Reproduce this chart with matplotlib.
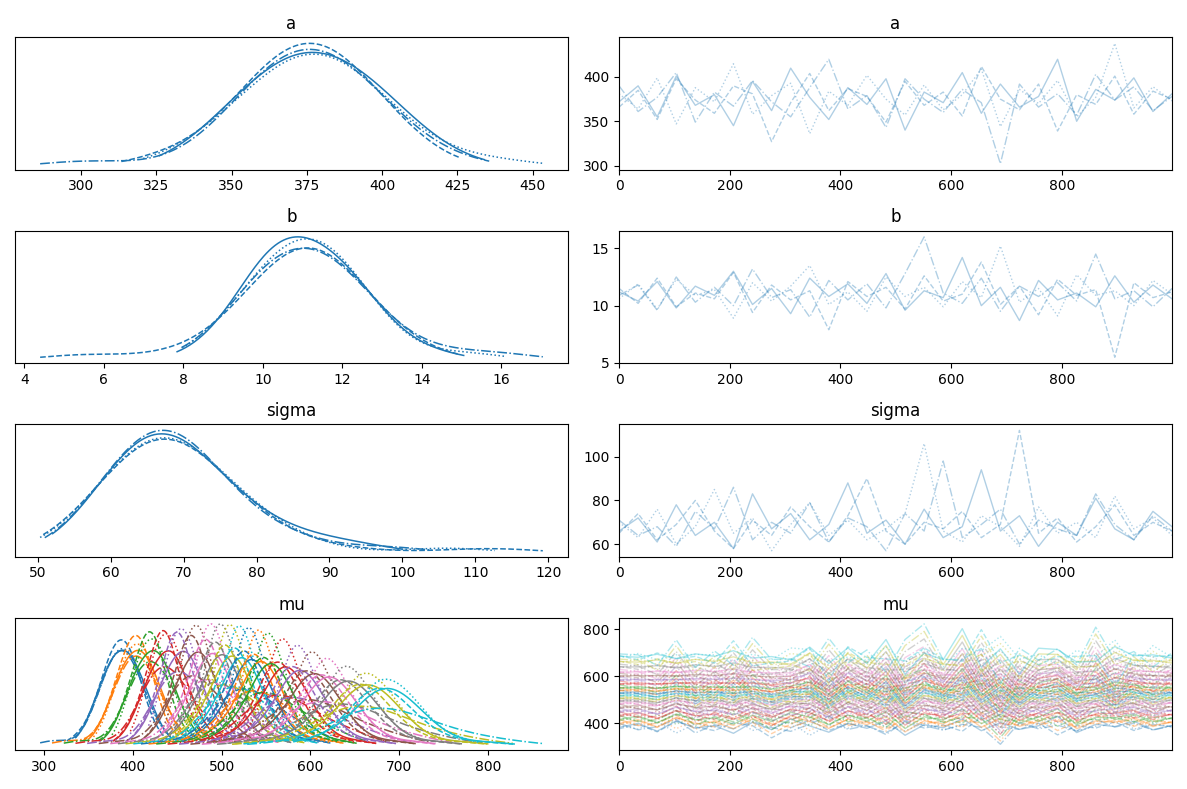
import numpy as np
import matplotlib
matplotlib.use("Agg")
import matplotlib.pyplot as plt

a_chains = [
 [372,390,355,401,368,380,345,395,362,410,377,352,388,369,398,340,383,371,405,359,392,366,378,420,350,386,374,399,361,381],
 [381,364,399,347,388,372,415,358,379,393,336,384,368,402,375,357,391,363,380,409,344,386,370,396,355,377,438,365,389,373],
 [366,385,352,398,374,359,390,381,327,371,404,362,387,378,349,395,368,383,356,412,375,363,392,339,380,369,401,358,384,375],
 [390,361,377,405,349,383,367,396,372,355,388,420,364,379,343,398,375,360,386,371,302,392,366,381,357,403,374,389,362,378]]
b_chains = [
 [11.2,10.4,12.1,9.8,11.7,10.9,13.0,10.1,11.5,9.3,12.4,10.8,11.9,10.2,12.8,9.6,11.3,10.7,14.2,10.0,11.6,8.7,12.2,10.5,11.1,9.9,12.6,10.3,11.8,10.6],
 [10.6,11.9,9.7,12.3,10.9,11.4,8.9,12.0,10.4,11.7,13.5,10.1,11.2,9.5,12.5,10.8,11.6,9.9,12.1,10.7,15.2,10.3,11.5,9.1,12.7,10.9,11.3,10.0,12.2,11.0],
 [11.5,10.2,12.4,9.9,11.1,10.6,12.9,9.4,11.8,10.5,11.3,7.9,12.1,10.8,11.6,9.7,12.6,10.4,11.0,13.8,10.1,11.7,9.2,12.3,10.9,11.4,5.5,12.0,10.7,11.2],
 [10.9,11.8,9.6,12.5,10.3,11.6,10.0,13.2,10.7,11.4,9.0,12.2,10.5,11.9,9.8,12.8,16.0,11.1,10.2,12.4,9.5,11.7,10.8,12.0,10.4,14.5,10.6,11.3,9.9,11.5]]
sigma_chains = [
 [66,72,61,78,64,70,58,83,67,74,62,69,88,65,71,60,76,63,68,94,66,73,59,70,64,81,67,62,75,68],
 [70,63,76,60,68,85,65,72,57,69,79,64,71,62,67,74,106,66,61,73,68,59,77,65,70,63,82,67,72,64],
 [65,74,62,69,80,66,58,71,64,77,68,61,73,90,66,60,70,67,75,63,69,112,65,72,61,68,78,64,70,66],
 [71,64,68,59,75,67,86,62,70,65,79,61,72,68,57,74,66,98,63,69,76,60,71,67,64,83,69,62,73,66]]
weights = [1.0,2.5,4.0,5.5,7.0,8.5,10.0,11.0,12.0,13.0,14.0,15.0,16.0,17.5,19.0,20.5,22.0,24.0,26.0,28.0]
n_draws = 1000
styles = ['-', ':', '--', '-.']

def kde(s, widen=1.4):
    s = np.asarray(s, float)
    bw = widen * s.std() * len(s) ** (-0.2)
    lo, hi = s.min() - bw, s.max() + bw
    g = np.linspace(lo, hi, 200)
    d = np.exp(-0.5 * ((g[:, None] - s[None, :]) / bw) ** 2).sum(1)
    return g, d / (len(s) * bw * np.sqrt(2 * np.pi))

fig, axes = plt.subplots(4, 2, figsize=(11.87, 7.89), dpi=100)
params = [("a", a_chains), ("b", b_chains), ("sigma", sigma_chains)]
for r, (name, chains) in enumerate(params):
    axk, axt = axes[r]
    for c, ch in enumerate(chains):
        g, d = kde(ch)
        axk.plot(g, d, color='C0', ls=styles[c], lw=1.1)
        xs = np.linspace(0, n_draws - 1, len(ch))
        axt.plot(xs, ch, color='C0', ls=styles[c], lw=1, alpha=0.35)
    axk.set_title(name); axt.set_title(name)
    axk.set_yticks([]); axt.set_xlim(0, n_draws - 1)

axk, axt = axes[3]
A = np.array(a_chains, float); B = np.array(b_chains, float)
for i, w in enumerate(weights):
    col = f"C{i % 10}"
    mu = A + B * w
    for c in range(4):
        g, d = kde(mu[c])
        axk.plot(g, d, color=col, ls=styles[c], lw=1.1)
        xs = np.linspace(0, n_draws - 1, mu.shape[1])
        axt.plot(xs, mu[c], color=col, ls=styles[c], lw=1, alpha=0.35)
axk.set_title("mu"); axt.set_title("mu")
axk.set_yticks([]); axt.set_xlim(0, n_draws - 1)
fig.tight_layout()
fig.savefig("out.png")
